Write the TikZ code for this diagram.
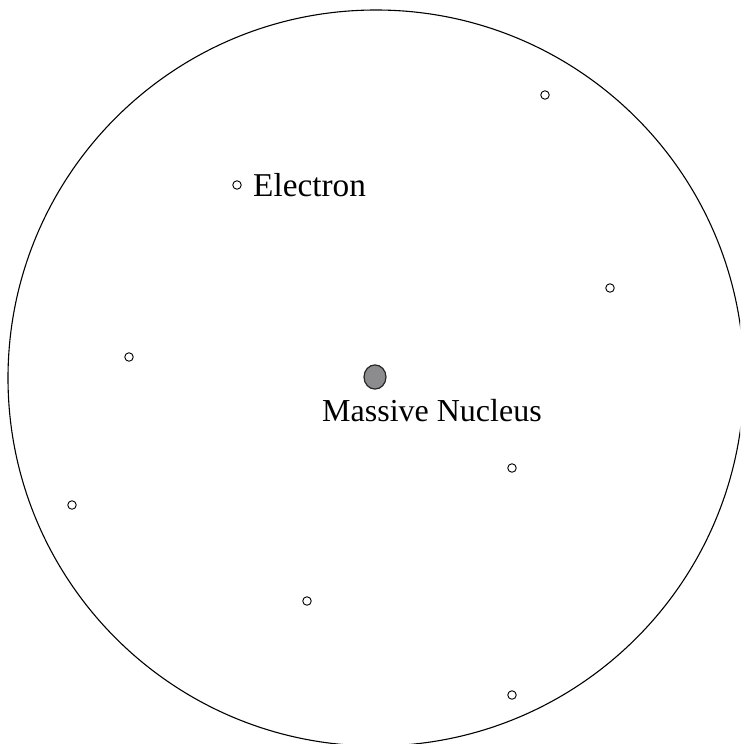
\documentclass[tikz,border=0pt]{standalone}
\usepackage{fontspec}
\setmainfont{Liberation Serif}
\definecolor{nucfill}{RGB}{140,140,142}
\begin{document}
\begin{tikzpicture}[x=1pt,y=-1pt,
  electron/.style={circle,draw=black,line width=0.9pt,fill=white,minimum size=8.5pt,inner sep=0pt},
  label/.style={inner sep=0pt,font=\fontsize{32}{38}\selectfont},
  nucleus/.style={circle,draw=black!85,line width=1.2pt,fill=nucfill,minimum size=22pt,inner sep=0pt,yscale=1.1}]
\useasboundingbox (0,0) rectangle (740,744);
\clip (0,0) rectangle (740,744);
\draw[line width=1.1pt] (376,378) circle[radius=368];
\node[nucleus] (nuc) at (375,377) {};
\node[label,anchor=base west] (nuclab) at (322,421) {Massive Nucleus};
\node[electron] (e1) at (545,95) {};
\node[electron] (e2) at (237,185) {};
\node[label,anchor=base west,font=\fontsize{33.3}{38}\selectfont] (elab) at (253,196) {Electron};
\node[electron] (e3) at (610,288) {};
\node[electron] (e4) at (129,357) {};
\node[electron] (e5) at (512,468) {};
\node[electron] (e6) at (72,505) {};
\node[electron] (e7) at (307,601) {};
\node[electron] (e8) at (512,695) {};
\end{tikzpicture}
\end{document}
